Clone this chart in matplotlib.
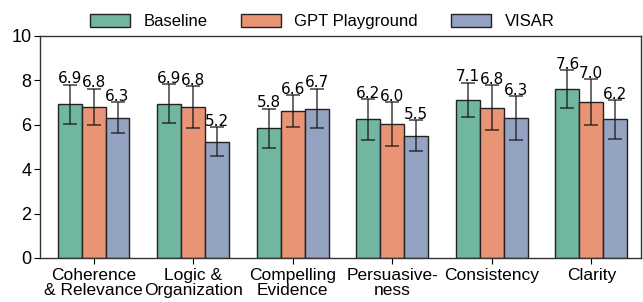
import numpy as np
import matplotlib
matplotlib.use("Agg")
import matplotlib.pyplot as plt

# -------------------------------------------------
# DATA
# -------------------------------------------------
categories = ["Coherence\n& Relevance", "Logic &\nOrganization", "Compelling\nEvidence",
              "Persuasive-\nness", "Consistency", "Clarity"]
series = ["Baseline", "GPT Playground", "VISAR"]

baseline = [6.92, 6.94, 5.83, 6.24, 7.12, 7.61]
gpt_playground = [6.80, 6.78, 6.62, 6.04, 6.77, 7.01]
visar = [6.32, 5.24, 6.73, 5.51, 6.29, 6.24]

baseline_err = [0.88, 0.88, 0.90, 0.92, 0.78, 0.86]
gpt_playground_err = [0.83, 0.95, 0.72, 0.98, 1.00, 1.03]
visar_err = [0.70, 0.64, 0.90, 0.69, 1.00, 0.88]

yticks = [0, 2, 4, 6, 8, 10]

colors = ["#71b6a0", "#e99575", "#95a3c3"]

# -------------------------------------------------
# FIGURE
# -------------------------------------------------
plt.rcParams["font.family"] = ["Liberation Sans", "DejaVu Sans"]

fig = plt.figure(figsize=(6.43, 3.02), dpi=100)
ax = fig.add_axes([0.062, 0.146, 0.935, 0.735])

x = np.arange(len(categories))
width = 0.24
values = [baseline, gpt_playground, visar]
errors = [baseline_err, gpt_playground_err, visar_err]

for i, (name, vals, errs) in enumerate(zip(series, values, errors)):
    pos = x + (i - 1) * width
    ax.bar(pos, vals, width, color=colors[i], edgecolor="#222222",
           linewidth=1.0, label=name, zorder=2)
    ax.errorbar(pos, vals, yerr=errs, fmt="none", ecolor="#111111",
                elinewidth=1.1, capsize=5, capthick=1.1, alpha=0.8, zorder=3)
    for p, v, e in zip(pos, vals, errs):
        ax.text(p, v + e + 0.06, f"{v:.1f}", ha="center", va="baseline",
                fontsize=11, family="DejaVu Sans", zorder=4)

# -------------------------------------------------
# FORMATTING
# -------------------------------------------------
ax.set_xlim(-0.54, 5.5)
ax.set_ylim(0, 10)
ax.set_yticks(yticks)
ax.set_xticks(x)
ax.set_xticklabels(categories, fontsize=12.5, linespacing=1.05)
ax.tick_params(axis="y", labelsize=13, length=4, pad=2)
ax.tick_params(axis="x", length=4, pad=3)
for s in ax.spines.values():
    s.set_color("#333333")
    s.set_linewidth(1.0)

ax.legend(loc="lower center", bbox_to_anchor=(0.47, 0.985), ncol=3,
          frameon=False, fontsize=12, handlelength=2.4, handleheight=0.9,
          columnspacing=2.0, handletextpad=0.8, borderaxespad=0.2)

fig.savefig("out.png", dpi=100)
